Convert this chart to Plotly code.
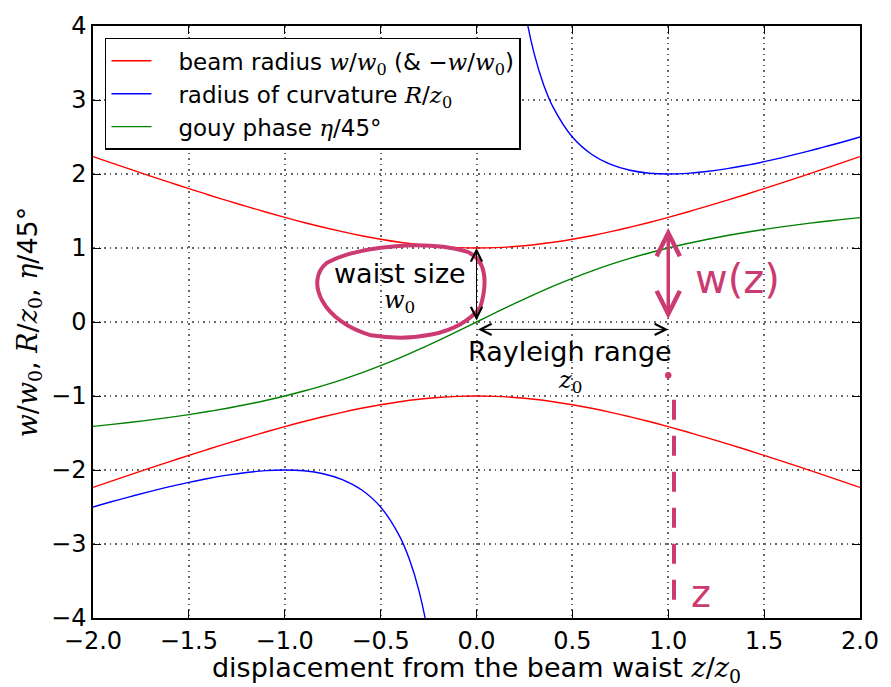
import plotly.graph_objects as go

# z / z0 sample positions
z = [-2.0, -1.9, -1.8, -1.7, -1.6, -1.5, -1.4, -1.3, -1.2, -1.1, -1.0,
     -0.9, -0.8, -0.7, -0.6, -0.5, -0.4, -0.3, -0.2, -0.1, 0.0,
     0.1, 0.2, 0.3, 0.4, 0.5, 0.6, 0.7, 0.8, 0.9, 1.0,
     1.1, 1.2, 1.3, 1.4, 1.5, 1.6, 1.7, 1.8, 1.9, 2.0]

# beam radius w/w0
w = [2.236, 2.147, 2.059, 1.972, 1.887, 1.803, 1.720, 1.640, 1.562, 1.487, 1.414,
     1.345, 1.281, 1.221, 1.166, 1.118, 1.077, 1.044, 1.020, 1.005, 1.000,
     1.005, 1.020, 1.044, 1.077, 1.118, 1.166, 1.221, 1.281, 1.345, 1.414,
     1.487, 1.562, 1.640, 1.720, 1.803, 1.887, 1.972, 2.059, 2.147, 2.236]

w_neg = [-2.236, -2.147, -2.059, -1.972, -1.887, -1.803, -1.720, -1.640, -1.562, -1.487, -1.414,
         -1.345, -1.281, -1.221, -1.166, -1.118, -1.077, -1.044, -1.020, -1.005, -1.000,
         -1.005, -1.020, -1.044, -1.077, -1.118, -1.166, -1.221, -1.281, -1.345, -1.414,
         -1.487, -1.562, -1.640, -1.720, -1.803, -1.887, -1.972, -2.059, -2.147, -2.236]

# gouy phase eta/45deg
gouy = [-1.410, -1.383, -1.354, -1.323, -1.289, -1.251, -1.210, -1.165, -1.115, -1.061, -1.000,
        -0.933, -0.859, -0.778, -0.688, -0.590, -0.485, -0.371, -0.251, -0.127, 0.000,
        0.127, 0.251, 0.371, 0.485, 0.590, 0.688, 0.778, 0.859, 0.933, 1.000,
        1.061, 1.115, 1.165, 1.210, 1.251, 1.289, 1.323, 1.354, 1.383, 1.410]

# radius of curvature R/z0 (two branches)
z_pos = [0.20, 0.25, 0.30, 0.35, 0.40, 0.50, 0.60, 0.70, 0.80, 0.90, 1.00,
         1.10, 1.20, 1.30, 1.40, 1.50, 1.60, 1.70, 1.80, 1.90, 2.00]
R_pos = [5.200, 4.250, 3.633, 3.207, 2.900, 2.500, 2.267, 2.129, 2.050, 2.011, 2.000,
         2.009, 2.033, 2.069, 2.114, 2.167, 2.225, 2.288, 2.356, 2.426, 2.500]
z_neg = [-2.00, -1.90, -1.80, -1.70, -1.60, -1.50, -1.40, -1.30, -1.20, -1.10, -1.00,
         -0.90, -0.80, -0.70, -0.60, -0.50, -0.40, -0.35, -0.30, -0.25, -0.20]
R_neg = [-2.500, -2.426, -2.356, -2.288, -2.225, -2.167, -2.114, -2.069, -2.033, -2.009, -2.000,
         -2.011, -2.050, -2.129, -2.267, -2.500, -2.900, -3.207, -3.633, -4.250, -5.200]

x_ticks = [-2.0, -1.5, -1.0, -0.5, 0.0, 0.5, 1.0, 1.5, 2.0]
x_tick_labels = ["\u22122.0", "\u22121.5", "\u22121.0", "\u22120.5", "0.0", "0.5", "1.0", "1.5", "2.0"]
y_ticks = [-4, -3, -2, -1, 0, 1, 2, 3, 4]
y_tick_labels = ["\u22124", "\u22123", "\u22122", "\u22121", "0", "1", "2", "3", "4"]

FONT = "DejaVu Sans"
MAG = "#cc3a72"


def m(s):
    return '<span style="font-family:\'DejaVu Serif\'"><i>' + s + '</i></span>'


def msub(s, sub):
    return '<span style="font-family:\'DejaVu Serif\'"><i>' + s + '</i><sub>' + sub + '</sub></span>'


SP = "\u00a0\u00a0\u00a0"

fig = go.Figure()
fig.add_trace(go.Scatter(x=z, y=w, mode="lines", line=dict(color="#ff0000", width=1.4, shape="spline"),
                         name=SP + "beam radius " + m("w") + "/" + msub("w", "0") + " (& \u2212" + m("w") + "/" + msub("w", "0") + ")"))
fig.add_trace(go.Scatter(x=z_pos, y=R_pos, mode="lines", line=dict(color="#0000ff", width=1.4, shape="spline"),
                         name=SP + "radius of curvature " + m("R") + "/" + msub("z", "0")))
fig.add_trace(go.Scatter(x=z, y=gouy, mode="lines", line=dict(color="#008000", width=1.4, shape="spline"),
                         name=SP + "gouy phase " + m("\u03b7") + "/45\u00b0"))
fig.add_trace(go.Scatter(x=z, y=w_neg, mode="lines", line=dict(color="#ff0000", width=1.4, shape="spline"),
                         showlegend=False))
fig.add_trace(go.Scatter(x=z_neg, y=R_neg, mode="lines", line=dict(color="#0000ff", width=1.4, shape="spline"),
                         showlegend=False))

# black double arrows
for (x0, y0, x1, y1) in [(0.0, 0.0, 0.0, 1.0), (0.0, -0.1, 1.0, -0.1)]:
    fig.add_annotation(x=x1, y=y1, ax=x0, ay=y0, xref="x", yref="y", axref="x", ayref="y",
                       showarrow=True, arrowhead=5, startarrowhead=5, arrowside="end+start",
                       arrowsize=2.2, startarrowsize=2.2, arrowwidth=1, arrowcolor="black", text="")

# magenta double arrow at z = 1
fig.add_annotation(x=1.0, y=1.27, ax=1.0, ay=0.02, xref="x", yref="y", axref="x", ayref="y",
                   showarrow=True, arrowhead=5, startarrowhead=5, arrowside="end+start",
                   arrowsize=1.3, startarrowsize=1.3, arrowwidth=3.5, arrowcolor=MAG, text="")

texts = [
    (-0.40, 0.66, "waist size", 27, "black"),
    (-0.40, 0.28, msub("w", "0"), 24, "black"),
    (0.49, -0.40, "Rayleigh range", 27, "black"),
    (0.49, -0.80, msub("z", "0"), 24, "black"),
    (1.36, 0.58, "w(z)", 40, MAG),
    (1.17, -3.68, "z", 38, MAG),
]
for (tx, ty, tt, ts, tc) in texts:
    fig.add_annotation(x=tx, y=ty, xref="x", yref="y", text=tt, showarrow=False,
                       font=dict(family=FONT, size=ts, color=tc))

# magenta loop around "waist size"
fig.add_shape(type="path", xref="x", yref="y",
              path="M 0.02,0.20 C 0.06,0.55 0.05,0.85 -0.05,0.95 C -0.25,1.10 -0.60,1.05 -0.78,0.80 "
                   "C -0.90,0.55 -0.80,0.00 -0.55,-0.18 C -0.35,-0.26 -0.10,-0.20 0.02,0.20",
              line=dict(color=MAG, width=4))
# magenta dot and dashed line below z = 1
fig.add_shape(type="circle", xref="x", yref="y", x0=0.985, x1=1.015, y0=-0.76, y1=-0.68,
              fillcolor=MAG, line=dict(color=MAG, width=1))
fig.add_shape(type="line", xref="x", yref="y", x0=1.03, x1=1.03, y0=-1.05, y1=-3.85,
              line=dict(color=MAG, width=4, dash="20px,16px"))

fig.update_layout(
    width=891, height=687,
    margin=dict(l=93, r=29, t=25, b=66),
    paper_bgcolor="white", plot_bgcolor="white",
    font=dict(family=FONT, size=24, color="black"),
    showlegend=True,
    legend=dict(x=0.0156, y=0.98, xanchor="left", yanchor="top",
                bgcolor="white", bordercolor="black", borderwidth=1.5,
                font=dict(family=FONT, size=23), itemwidth=40, tracegroupgap=0),
)
grid = dict(showgrid=True, gridcolor="#666666", griddash="1.5px,4px", gridwidth=1.5)
fig.update_xaxes(range=[-2, 2], tickvals=x_ticks, ticktext=x_tick_labels,
                 showline=True, linecolor="black", linewidth=1.5, mirror="ticks",
                 ticks="inside", ticklen=8, tickcolor="black",
                 zeroline=False, tickfont=dict(size=24), **grid,
                 title=dict(text="displacement from the beam waist " + m("z") + "/" + msub("z", "0"),
                            font=dict(size=27), standoff=2))
fig.update_yaxes(range=[-4, 4], tickvals=y_ticks, ticktext=y_tick_labels,
                 showline=True, linecolor="black", linewidth=1.5, mirror="ticks",
                 ticks="inside", ticklen=8, tickcolor="black",
                 zeroline=False, tickfont=dict(size=24), **grid,
                 title=dict(text=m("w") + "/" + msub("w", "0") + ", " + m("R") + "/" + msub("z", "0") + ", " + m("\u03b7") + "/45\u00b0",
                            font=dict(size=27), standoff=6))

fig.write_html("out.html")
